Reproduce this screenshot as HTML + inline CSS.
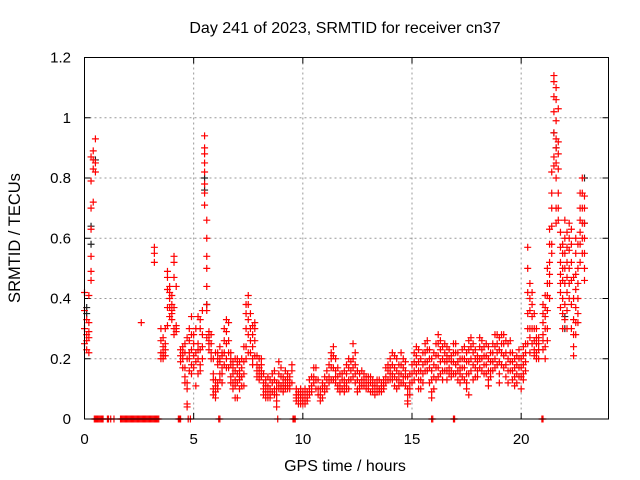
<!DOCTYPE html>
<html><head><meta charset="utf-8"><style>
body{margin:0;background:#fff}
svg{display:block;font-family:"Liberation Sans",sans-serif}
</style></head><body>
<svg id="chart" width="640" height="480" viewBox="0 0 640 480">
<text x="345" y="33" text-anchor="middle" font-size="16" fill="#000">Day 241 of 2023, SRMTID for receiver cn37</text>
<text x="345" y="471" text-anchor="middle" font-size="16" fill="#000">GPS time / hours</text>
<text transform="translate(20,238) rotate(-90)" text-anchor="middle" font-size="16.5" fill="#000">SRMTID / TECUs</text>
<g id="grid"></g>
<g id="ticks"></g>
<g id="marks"></g>
<rect x="84.5" y="57.5" width="524" height="361.5" fill="none" stroke="#000" stroke-width="1"/>
</svg>
<script>
const xTicks=[0,5,10,15,20];
const yTicks=[0,0.2,0.4,0.6,0.8,1,1.2];
const yTickLabels=["0","0.2","0.4","0.6","0.8","1","1.2"];
const hours=[0.0,0.1,0.2,0.3,0.4,0.5,2.6,3.2,3.5,3.6,3.7,3.8,3.9,4.0,4.1,4.2,4.4,4.5,4.6,4.7,4.8,4.9,5.0,5.1,5.2,5.3,5.4,5.5,5.6,5.7,5.8,5.9,6.0,6.1,6.2,6.3,6.4,6.5,6.6,6.7,6.8,6.9,7.0,7.1,7.2,7.3,7.4,7.5,7.6,7.7,7.8,7.9,8.0,8.1,8.2,8.3,8.4,8.5,8.6,8.7,8.8,8.9,9.0,9.1,9.2,9.3,9.4,9.5,9.7,9.8,9.9,10.0,10.1,10.2,10.3,10.4,10.5,10.6,10.7,10.8,10.9,11.0,11.1,11.2,11.3,11.4,11.5,11.6,11.7,11.8,11.9,12.0,12.1,12.2,12.3,12.4,12.5,12.6,12.7,12.8,12.9,13.0,13.1,13.2,13.3,13.4,13.5,13.6,13.7,13.8,13.9,14.0,14.1,14.2,14.3,14.4,14.5,14.6,14.7,14.8,14.9,15.0,15.1,15.2,15.3,15.4,15.5,15.6,15.7,15.8,15.9,16.0,16.1,16.2,16.3,16.4,16.5,16.6,16.7,16.8,16.9,17.0,17.1,17.2,17.3,17.4,17.5,17.6,17.7,17.8,17.9,18.0,18.1,18.2,18.3,18.4,18.5,18.6,18.7,18.8,18.9,19.0,19.1,19.2,19.3,19.4,19.5,19.6,19.7,19.8,19.9,20.0,20.1,20.2,20.3,20.4,20.5,20.6,20.7,20.8,21.0,21.1,21.2,21.3,21.4,21.5,21.6,21.7,21.8,21.9,22.0,22.1,22.2,22.3,22.4,22.5,22.6,22.7,22.8,22.9];
const values=[
[0.42,0.36,0.3,0.25],[0.33,0.28,0.23,0.26],[0.32,0.29,0.27,0.22,0.41],[0.87,0.79,0.7,0.63,0.54,0.49,0.46],[0.86,0.89,0.83,0.72],[0.93,0.85,0.82],
[0.32],[0.57,0.55,0.52],[0.3,0.26,0.22,0.2],[0.27,0.24,0.22,0.21,0.2],[0.25,0.23,0.3,0.21],[0.49,0.47,0.43,0.37,0.31],[0.44,0.4,0.37,0.34,0.42],[0.41,0.38,0.35,0.33,0.36],[0.54,0.52,0.47,0.37,0.3,0.28],[0.44,0.31,0.3,0.29],
[0.23,0.21,0.19],[0.24,0.22,0.2,0.17],[0.22,0.14,0.12,0.17,0.25],[0.27,0.12,0.05,0.04,0.1,0.2],[0.26,0.2,0.16,0.3,0.22],[0.34,0.28,0.23,0.18,0.15],[0.28,0.25,0.21,0.17],[0.3,0.22,0.19,0.11],[0.34,0.25,0.23,0.2,0.15],[0.33,0.3,0.23,0.18,0.16],[0.36,0.28,0.24,0.2],
[0.94,0.9,0.88,0.85,0.82,0.78,0.75,0.71],[0.66,0.6,0.54,0.5,0.44,0.38,0.36,0.27],[0.29,0.26,0.25,0.23,0.28],[0.28,0.25,0.22,0.2],[0.2,0.13,0.1,0.08,0.15],[0.22,0.13,0.09,0.07,0.11],[0.22,0.18,0.12,0.1,0.2],[0.24,0.2,0.15,0.13,0.19],[0.21,0.17,0.15,0.12,0.22],[0.3,0.26,0.22,0.18],[0.33,0.29,0.25,0.2,0.17],[0.32,0.26,0.22,0.17],[0.22,0.18,0.14,0.12,0.2],[0.19,0.15,0.12,0.1,0.17],[0.2,0.16,0.13,0.11,0.07],[0.2,0.15,0.12,0.07,0.18],[0.19,0.16,0.13,0.1,0.14],[0.2,0.17,0.14,0.11],[0.24,0.19,0.15,0.11],[0.38,0.35,0.3,0.24,0.2],[0.41,0.38,0.33,0.28,0.22],[0.35,0.3,0.26,0.22],[0.31,0.28,0.24,0.2,0.18],[0.32,0.3,0.26,0.21],[0.21,0.18,0.16,0.14],[0.2,0.17,0.15,0.13],[0.2,0.18,0.16,0.14],
[0.15,0.12,0.1,0.08],[0.13,0.11,0.09,0.07],[0.14,0.11,0.09,0.07],[0.13,0.1,0.08,0.07],[0.15,0.12,0.09],[0.16,0.13,0.1,0.08],[0.12,0.08,0.06,0.04,0.1],[0.19,0.15,0.12,0.1],[0.17,0.14,0.11,0.1],[0.14,0.12,0.1,0.09],[0.16,0.13,0.11,0.1],[0.15,0.13,0.11,0.1],[0.14,0.12,0.1],[0.18,0.16,0.12],
[0.1,0.08,0.07,0.06],[0.09,0.08,0.06,0.05],[0.1,0.08,0.07,0.05],[0.09,0.07,0.06,0.05],[0.1,0.08,0.06,0.05],[0.09,0.07,0.06],[0.13,0.1,0.08],[0.14,0.11,0.09],[0.17,0.14,0.12],[0.17,0.13,0.1],[0.13,0.1,0.08],[0.1,0.08,0.06],[0.12,0.1,0.07],[0.14,0.11,0.09],[0.16,0.13,0.1],[0.18,0.14,0.12],[0.22,0.2,0.17,0.13],[0.24,0.21,0.17,0.13],[0.2,0.16,0.14,0.12],[0.17,0.14,0.11,0.1],[0.15,0.12,0.1,0.09],[0.15,0.13,0.1],[0.16,0.13,0.11,0.09],[0.18,0.15,0.12,0.1],[0.2,0.17,0.13,0.1],[0.19,0.16,0.13],[0.25,0.2,0.17,0.14],[0.22,0.18,0.15,0.12],[0.16,0.13,0.1,0.09],[0.15,0.12,0.1],[0.16,0.13,0.11],[0.15,0.13,0.11],[0.14,0.12,0.1],[0.14,0.12,0.1],[0.14,0.12,0.09],[0.13,0.11,0.09],[0.12,0.1,0.08],[0.13,0.11,0.09],[0.13,0.1,0.09],[0.12,0.1,0.09],[0.13,0.11,0.1],[0.17,0.14,0.12],[0.18,0.16,0.13],
[0.2,0.17,0.15,0.13],[0.22,0.18,0.15,0.13],[0.21,0.17,0.14,0.11],[0.2,0.16,0.13,0.1],[0.18,0.15,0.13,0.11],[0.22,0.18,0.15,0.12],[0.2,0.17,0.14,0.12],[0.19,0.16,0.14,0.11],[0.14,0.1,0.08,0.06,0.05],[0.15,0.12,0.1,0.08],[0.18,0.15,0.12],[0.22,0.19,0.16,0.13],[0.24,0.21,0.18,0.15],[0.23,0.19,0.16,0.13,0.1],[0.2,0.16,0.13,0.1],[0.22,0.18,0.15,0.12],[0.25,0.22,0.19,0.16],[0.26,0.23,0.19,0.16],[0.23,0.2,0.17,0.12],[0.2,0.16,0.13,0.09,0.07],[0.22,0.18,0.14,0.1],[0.25,0.21,0.17,0.13],[0.28,0.25,0.21,0.17,0.14],[0.26,0.23,0.19,0.15],[0.24,0.2,0.16,0.13],[0.25,0.22,0.19,0.16],[0.24,0.21,0.19,0.16,0.13],[0.23,0.2,0.17,0.15],[0.21,0.19,0.16,0.14],[0.25,0.22,0.19,0.15],[0.25,0.22,0.18,0.15],[0.22,0.19,0.16,0.13],[0.2,0.17,0.15,0.12],[0.23,0.2,0.17,0.14],[0.24,0.2,0.17,0.13],[0.22,0.19,0.15,0.12,0.1],[0.26,0.23,0.19,0.15,0.08],[0.27,0.24,0.2,0.16],[0.25,0.22,0.18,0.13],[0.23,0.2,0.17,0.14],[0.21,0.19,0.16,0.14],[0.27,0.24,0.2,0.17],[0.26,0.23,0.2,0.16],[0.24,0.21,0.18,0.15],[0.25,0.21,0.18,0.15],[0.24,0.2,0.16,0.13,0.11],[0.22,0.19,0.16,0.14],[0.25,0.22,0.19,0.16],[0.28,0.24,0.2,0.17],[0.28,0.25,0.22,0.18],[0.27,0.23,0.19,0.15,0.12],[0.28,0.25,0.22,0.18],[0.28,0.25,0.21,0.17],[0.26,0.22,0.18,0.14],[0.25,0.2,0.16,0.12],[0.26,0.22,0.19,0.16],[0.22,0.19,0.16,0.13],[0.2,0.17,0.14,0.11],[0.21,0.18,0.15,0.12],[0.23,0.2,0.17,0.14],[0.2,0.17,0.14,0.1],[0.24,0.21,0.18,0.15,0.13],[0.25,0.22,0.19,0.16],
[0.57,0.5,0.42,0.35,0.3,0.25],[0.45,0.4,0.36,0.3,0.27,0.22],[0.42,0.38,0.34,0.3,0.25],[0.35,0.3,0.26,0.23,0.21],[0.3,0.27,0.25,0.22,0.2],[0.27,0.25,0.23,0.2],[0.38,0.35,0.32,0.28,0.26,0.23],[0.41,0.37,0.34,0.3,0.24,0.2],[0.5,0.45,0.41,0.36,0.3,0.26],[0.63,0.58,0.52,0.48,0.45,0.4],[0.82,0.75,0.7,0.64,0.58,0.55],[1.14,1.12,1.07,1.02,0.95,0.87,0.84],[1.1,1.06,0.99,0.93,0.9,0.85,0.8,0.7,0.65],[1.03,0.92,0.88,0.83,0.75,0.7,0.66],[0.62,0.57,0.52,0.48,0.45,0.42,0.37],[0.58,0.55,0.5,0.46,0.4,0.35,0.3],[0.66,0.6,0.55,0.5,0.45,0.38,0.33],[0.62,0.57,0.52,0.47,0.42,0.36,0.3],[0.65,0.6,0.56,0.5,0.45,0.4],[0.63,0.58,0.52,0.46,0.38,0.3],[0.47,0.4,0.33,0.28,0.24,0.21],[0.6,0.55,0.48,0.43,0.37,0.32,0.28],[0.58,0.5,0.45,0.4,0.35,0.32],[0.75,0.7,0.66,0.62,0.58,0.52],[0.8,0.75,0.7,0.65,0.6,0.55],[0.74,0.7,0.65,0.6,0.55,0.5,0.46]];
const zeroHours=[0.45,0.5,0.55,0.6,0.65,0.7,0.75,0.8,0.85,1.05,1.1,1.2,1.35,1.65,1.7,1.75,1.8,1.85,1.9,1.95,2.0,2.05,2.1,2.15,2.2,2.25,2.3,2.35,2.4,2.45,2.5,2.55,2.6,2.65,2.7,2.75,2.8,2.85,2.9,2.95,3.0,3.05,3.1,3.15,3.2,3.25,3.3,3.35,3.4,4.3,4.35,4.4,4.75,4.85,6.15,6.2,8.85,9.55,9.6,9.65,15.9,15.95,16.9,16.95,20.95,21.0];
const blackHours=[0.1,0.1,0.3,0.3,0.5,5.5,5.5,5.6,21.5,21.6,22.0,22.0,22.9,22.9];
const blackValues=[0.37,0.35,0.64,0.58,0.86,0.8,0.76,0.38,0.95,0.9,0.3,0.34,0.8,0.65];

const L=84.5,R=608.5,T=57.5,B=419;
const xs=h=>L+(h/24)*(R-L);
const ys=v=>B-(v/1.2)*(B-T);
const NS="http://www.w3.org/2000/svg";
const grid=document.getElementById('grid'),ticks=document.getElementById('ticks'),marks=document.getElementById('marks'),svg=document.getElementById('chart');
function mk(tag,attrs,parent){const e=document.createElementNS(NS,tag);for(const k in attrs)e.setAttribute(k,attrs[k]);parent.appendChild(e);return e;}
xTicks.forEach(t=>{
  const x=xs(t);
  if(t>0){const g=mk('line',{x1:x,x2:x,y1:T,y2:B,stroke:'#999','stroke-dasharray':'2,3'},grid);
  
  }
  const tk=mk('path',{d:`M${x},${B}v-6M${x},${T}v6`,stroke:'#000'},ticks);
  
  
  const lb=mk('text',{x:x,y:444,'text-anchor':'middle','font-size':'15',fill:'#000'},svg);lb.textContent=String(t);
  
  
});
yTicks.forEach((t,i)=>{
  const y=ys(t);
  if(t>0&&t<1.2){const g=mk('line',{x1:L,x2:R,y1:y,y2:y,stroke:'#999','stroke-dasharray':'2,3'},grid);
  
  }
  const tk=mk('path',{d:`M${L},${y}h6M${R},${y}h-6`,stroke:'#000'},ticks);
  
  
  const lb=mk('text',{x:71,y:y+5,'text-anchor':'end','font-size':'15',fill:'#000'},svg);lb.textContent=yTickLabels[i];
  
  
});
function plus(h,v,color,name){
  const x=xs(h),y=ys(v);
  const p=mk('path',{d:`M${x-3.5},${y}h7M${x},${y-3.5}v7`,stroke:color,'stroke-width':'1.2',fill:'none'},marks);
  
  
}
blackHours.forEach((h,i)=>plus(h,blackValues[i],'#222','point-black'));
hours.forEach((h,i)=>values[i].forEach(v=>plus(h,v,'#f00','point-red')));
zeroHours.forEach(h=>plus(h,0,'#f00','point-zero'));
</script>
</body></html>
